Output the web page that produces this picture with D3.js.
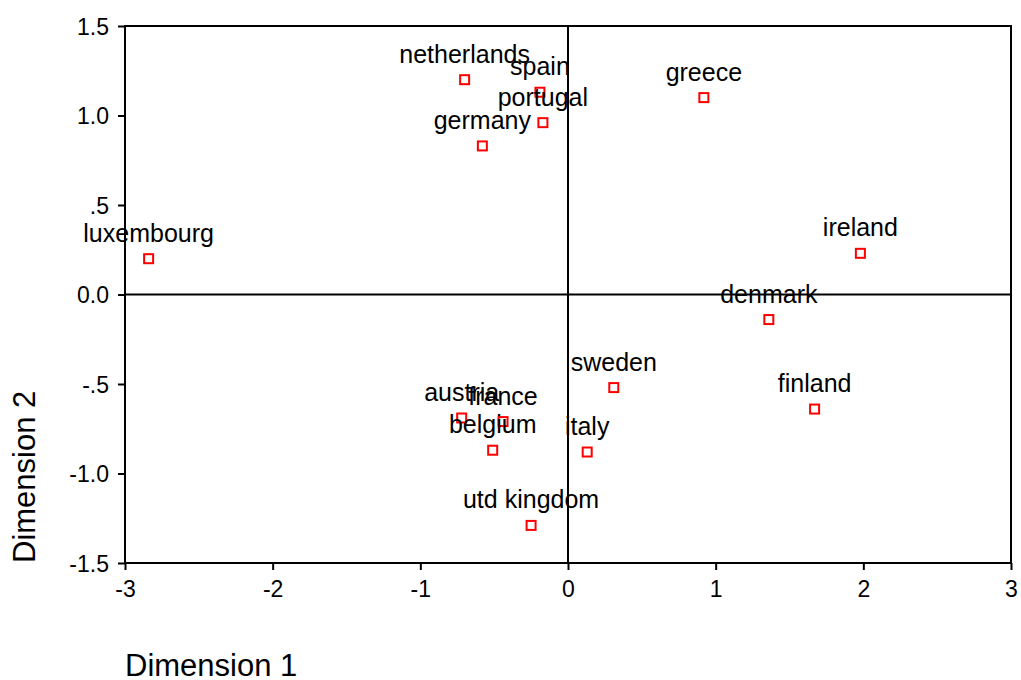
<!DOCTYPE html>
<html>
<head>
<meta charset="utf-8">
<script src="https://cdn.jsdelivr.net/npm/d3@7/dist/d3.min.js"></script>
<style>
  body { margin: 0; background: #fff; }
  text { font-family: "Liberation Sans", Arial, sans-serif; fill: #000; }
</style>
</head>
<body>
<div id="chart"></div>
<script>
// country positions on the two dimensions
var countries = ['luxembourg', 'netherlands', 'spain', 'portugal', 'germany', 'greece',
  'ireland', 'denmark', 'finland', 'sweden', 'austria', 'france', 'belgium', 'italy', 'utd kingdom'];
var dim1 = [-2.84, -0.70, -0.19, -0.17, -0.58, 0.92, 1.98, 1.36, 1.67, 0.31, -0.72, -0.44, -0.51, 0.13, -0.25];
var dim2 = [0.20, 1.20, 1.13, 0.96, 0.83, 1.10, 0.23, -0.14, -0.64, -0.52, -0.69, -0.71, -0.87, -0.88, -1.29];

var xTicks = [-3, -2, -1, 0, 1, 2, 3];
var yTicks = [1.5, 1.0, 0.5, 0.0, -0.5, -1.0, -1.5];
var yTickLabels = ['1.5', '1.0', '.5', '0.0', '-.5', '-1.0', '-1.5'];

var width = 1021, height = 680;
var margin = {top: 26, right: 10, bottom: 117, left: 125};
var w = width - margin.left - margin.right;
var h = height - margin.top - margin.bottom;

var svg = d3.select('#chart').append('svg')
  .attr('width', width)
  .attr('height', height);

var g = svg.append('g')
  .attr('transform', 'translate(' + margin.left + ',' + margin.top + ')');

var x = d3.scaleLinear().domain([-3, 3]).range([0, w]);
var y = d3.scaleLinear().domain([-1.5, 1.5]).range([h, 0]);

// axes
var xAxis = d3.axisBottom(x).tickValues(xTicks).tickSize(7).tickSizeOuter(0)
  .tickFormat(function(d) { return String(d); });
var yAxis = d3.axisLeft(y).tickValues(yTicks).tickSize(7).tickSizeOuter(0)
  .tickFormat(function(d, i) { return yTickLabels[i]; });

var xa = g.append('g').attr('transform', 'translate(0,' + h + ')').call(xAxis);
var ya = g.append('g').call(yAxis);
[xa, ya].forEach(function(a) {
  a.select('.domain').remove();
  a.selectAll('line').attr('stroke', '#000').attr('stroke-width', 2);
  a.selectAll('text').style('font-size', '23px').attr('fill', '#000');
});
xa.selectAll('text').attr('dy', '1.05em');
ya.selectAll('text').attr('x', -16).attr('dy', '0.35em');

// frame
g.append('rect')
  .attr('width', w).attr('height', h)
  .attr('fill', 'none').attr('stroke', '#000').attr('stroke-width', 2);

// zero lines
g.append('line')
  .attr('x1', x(0)).attr('x2', x(0)).attr('y1', 0).attr('y2', h)
  .attr('stroke', '#000').attr('stroke-width', 2);
g.append('line')
  .attr('x1', 0).attr('x2', w).attr('y1', y(0)).attr('y2', y(0))
  .attr('stroke', '#000').attr('stroke-width', 2);

var data = countries.map(function(c, i) { return {name: c, d1: dim1[i], d2: dim2[i]}; });

// points
g.selectAll('rect.pt').data(data).enter().append('rect')
  .attr('class', 'pt')
  .attr('x', function(d) { return x(d.d1) - 4.5; })
  .attr('y', function(d) { return y(d.d2) - 4.5; })
  .attr('width', 9).attr('height', 9)
  .attr('fill', '#fff').attr('stroke', '#ff0000').attr('stroke-width', 2);

// labels
g.selectAll('text.lbl').data(data).enter().append('text')
  .attr('class', 'lbl')
  .attr('x', function(d) { return x(d.d1); })
  .attr('y', function(d) { return y(d.d2) - 17; })
  .attr('text-anchor', 'middle')
  .style('font-size', '25px')
  .text(function(d) { return d.name; });

// axis titles
svg.append('text')
  .attr('x', margin.left)
  .attr('y', 676)
  .style('font-size', '31px')
  .text('Dimension 1');

svg.append('text')
  .attr('transform', 'translate(35,' + (margin.top + h) + ')rotate(-90)')
  .style('font-size', '31px')
  .text('Dimension 2');
</script>
</body>
</html>
